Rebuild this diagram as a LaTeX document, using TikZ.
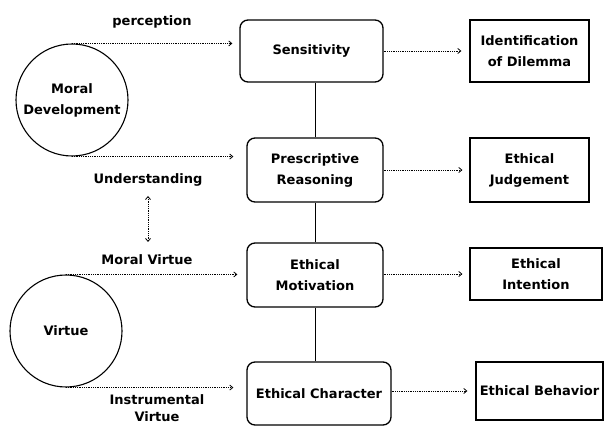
\documentclass[tikz,border=0pt]{standalone}
\usepackage{fontspec}
\setmainfont{DejaVu Sans}
\usetikzlibrary{arrows.meta}
\begin{document}
\begin{tikzpicture}[x=1pt,y=-1pt,
  every node/.style={font=\fontsize{13}{21}\selectfont\bfseries, align=center, inner sep=0pt},
  centerbox/.style={draw, line width=1.3pt, rounded corners=8pt},
  outbox/.style={draw, line width=1.3pt},
  circ/.style={draw, circle, line width=1.1pt, minimum size=112pt},
  flow/.style={densely dotted, line width=0.8pt, -{Straight Barb[length=3pt,width=5pt]}},
  bothflow/.style={densely dotted, line width=0.8pt, {Straight Barb[length=3pt,width=5pt]}-{Straight Barb[length=3pt,width=5pt]}},
  link/.style={line width=0.8pt}]
\useasboundingbox (0,0) rectangle (605,427);
\fill[white] (0,0) rectangle (605,427);
% central boxes
\node[centerbox, minimum width=143pt, minimum height=62pt] (S) at (311.5,51) {Sensitivity};
\node[centerbox, minimum width=136pt, minimum height=64pt] (P) at (315,170) {Prescriptive\\Reasoning};
\node[centerbox, minimum width=136pt, minimum height=64pt] (M) at (315,275) {Ethical\\Motivation};
\node[centerbox, minimum width=144pt, minimum height=63pt] (C) at (319,393.5) {Ethical Character};
% outcome boxes
\node[outbox, minimum width=119pt, minimum height=62pt] (I) at (529.5,51) {Identification\\of Dilemma};
\node[outbox, minimum width=119pt, minimum height=64pt] (J) at (529.5,170) {Ethical\\Judgement};
\node[outbox, minimum width=132pt, minimum height=52pt] (N) at (536,274) {Ethical\\Intention};
\node[outbox, minimum width=127pt, minimum height=58pt] (B) at (539.5,391) {Ethical Behavior};
% circles
\node[circ] (MD) at (72,100) {Moral\\Development};
\node[circ] (V) at (66,331) {Virtue};
% labels
\node (lp) at (152,22) {perception};
\node (lu) at (148,180) {Understanding};
\node (lm) at (147,260) {Moral Virtue};
\node (li) at (157,400) {Instrumental};
\node (lv) at (157,416.5) {Virtue};
\coordinate (ua) at (148,196);
\coordinate (ub) at (148,242);
% vertical links
\draw[link] (P.north) -- (P.north |- S.south);
\draw[link] (M.north) -- (P.south);
\draw[link] (C.north -| M.center) -- (M.south);
% inputs
\draw[flow, shorten >=7pt] (MD.north) -- (MD.north -| S.west);
\draw[flow, shorten >=13pt] (MD.south) -- (MD.south -| P.west);
\draw[flow, shorten >=9pt] (V.north) -- (V.north -| M.west);
\draw[flow, shorten >=13pt] (V.south) -- (V.south -| C.west);
\draw[bothflow] (ua) -- (ub);
% outputs
\draw[flow, shorten >=8pt] (S.east) -- (I.west);
\draw[flow, shorten >=7pt] (P.east) -- (J.west);
\draw[flow, shorten >=7pt] (M.east |- N.west) -- (N.west);
\draw[flow, shorten >=8pt] (C.east |- B.west) -- (B.west);
\end{tikzpicture}
\end{document}
